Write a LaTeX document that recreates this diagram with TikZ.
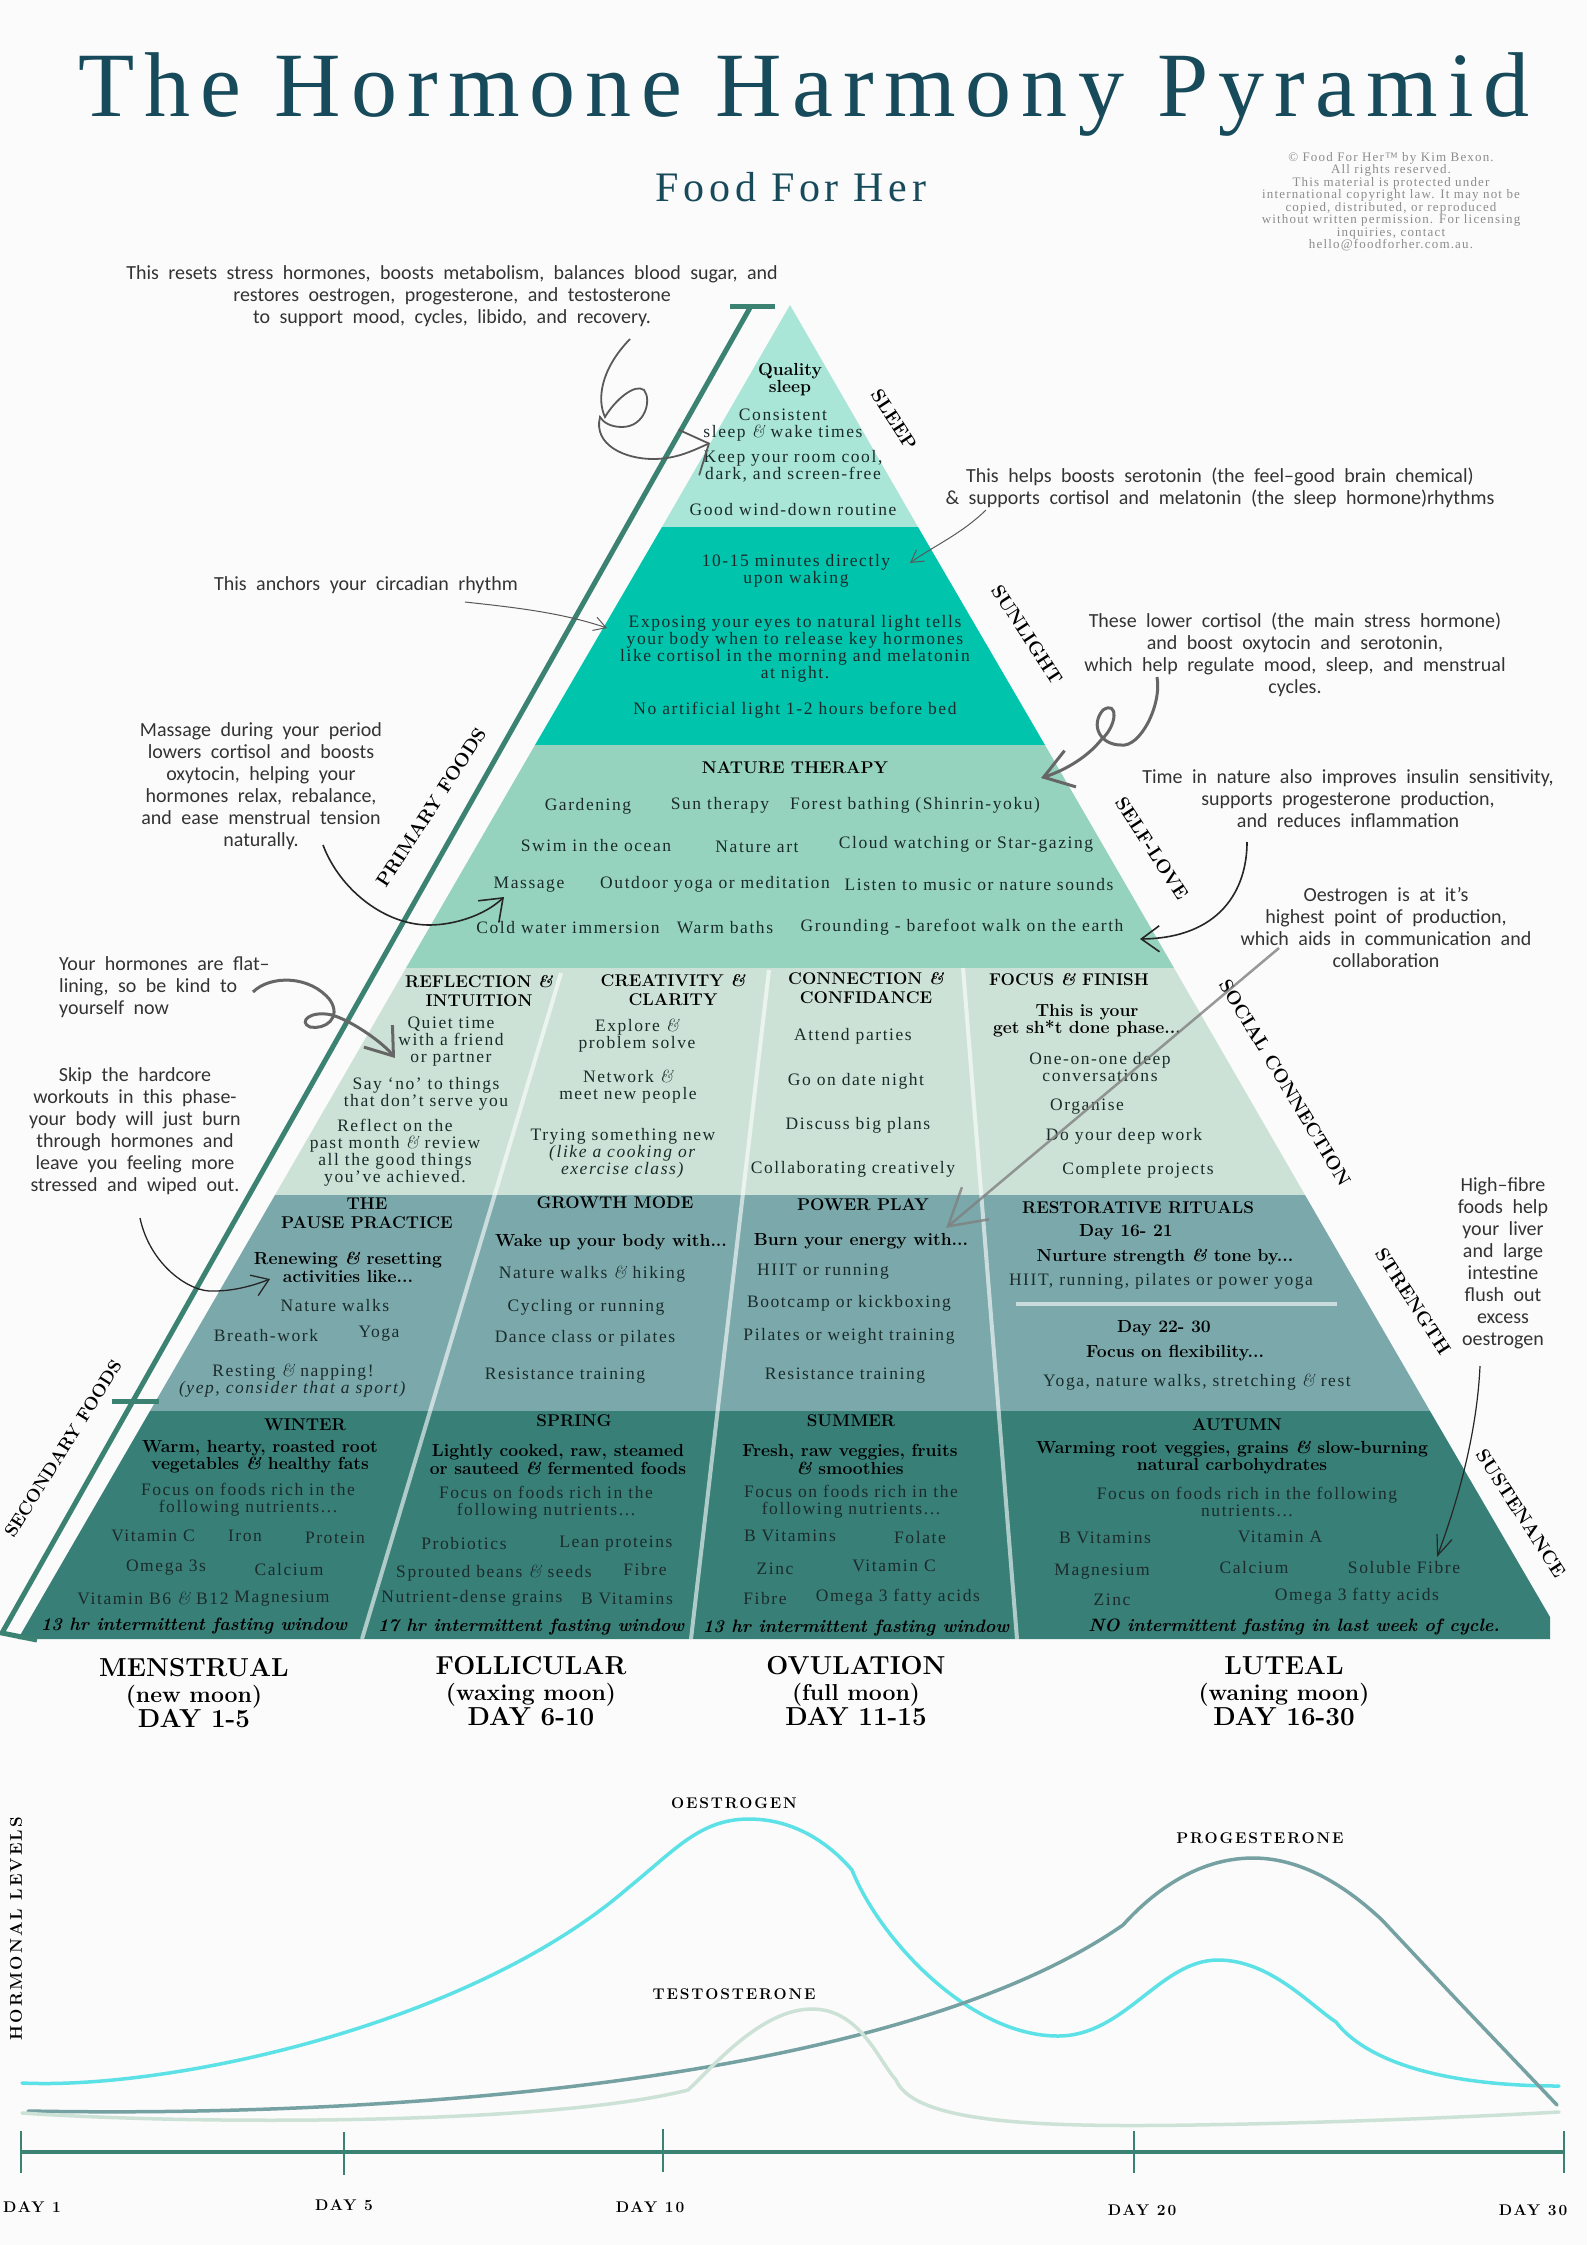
\documentclass[tikz,border=0pt]{standalone}
\usepackage{fontspec}
\usetikzlibrary{arrows.meta}
\newfontfamily\titlefont[LetterSpace=11]{Liberation Serif}
\newfontfamily\bodyfam[LetterSpace=9]{Liberation Serif}
\newfontfamily\spacedfam[LetterSpace=12]{Latin Modern Roman}
\newfontfamily\lmfont{Latin Modern Roman}
\newfontfamily\handfont[WordSpace=2.1]{Carlito}
\newcommand{\bodyfont}{\bodyfam\fontsize{17.5}{17}\selectfont}
\newcommand{\amp}{{\lmfont\itshape\&}}
\definecolor{pagecol}{HTML}{FBFBFB}
\definecolor{titlecol}{HTML}{174A5A}
\definecolor{sleepcol}{HTML}{A9E6D7}
\definecolor{suncol}{HTML}{00C4AC}
\definecolor{naturecol}{HTML}{96D3BE}
\definecolor{socialcol}{HTML}{CDE2D6}
\definecolor{strengthcol}{HTML}{7BA9AB}
\definecolor{foodcol}{HTML}{387F78}
\definecolor{linecol}{HTML}{3B8272}
\definecolor{textcol}{HTML}{1B2B2B}
\definecolor{cyancol}{HTML}{5CE1E6}
\begin{document}
\begin{tikzpicture}[x=1pt,y=-1pt,
  labelsty/.style={anchor=center,align=center,inner sep=0pt,yshift=-1.5pt,text=textcol,font=\bodyfont},
  boldsty/.style={labelsty,text=black,font=\fontsize{17.5}{17.5}\selectfont\bfseries},
  headsty/.style={labelsty,text=black,font=\fontsize{17}{19}\selectfont\bfseries},
  faststy/.style={labelsty,text=black,font=\fontsize{17.9}{17}\selectfont\bfseries\itshape},
  sidesty/.style={labelsty,text=black,font=\fontsize{19}{20}\selectfont\bfseries},
  phasesty/.style={labelsty,text=black,font=\fontsize{26}{25.5}\selectfont\bfseries},
  daysty/.style={labelsty,text=black,font=\spacedfam\fontsize{15.5}{16}\selectfont\bfseries},
  notesty/.style={labelsty,text=black!80,font=\handfont\fontsize{20}{22}\selectfont},
  thinhand/.style={draw=black!65,line width=1pt,-{Straight Barb[length=12pt,width=14pt]}},
  blackhand/.style={draw=black!85,line width=1.6pt},
  grayhand/.style={draw=black!60,line width=3pt},
  axissty/.style={draw=linecol,line width=2.5pt},
  curvesty/.style={line width=3.5pt,line cap=round},
  cuthline/.style={draw=white,opacity=0.6,line width=4pt}]

  \useasboundingbox (0,0) rectangle (1587,2245);
  \fill[pagecol] (0,0) rectangle (1587,2245);

  \draw node[labelsty,text=titlecol,font=\titlefont\fontsize{92}{94}\selectfont] (title) at (804,93) {The Hormone Harmony Pyramid};
  \draw node[labelsty,text=titlecol,font=\titlefont\fontsize{42}{44}\selectfont] (brand) at (791,186) {Food For Her};
  \draw node[labelsty,text=black!45,font=\bodyfam\fontsize{13}{12.5}\selectfont] (legal) at (1391,200) {© Food For Her™ by Kim Bexon.\\All rights reserved.\\This material is protected under\\international copyright law. It may not be\\copied, distributed, or reproduced\\without written permission. For licensing\\inquiries, contact\\hello@foodforher.com.au.};

  \fill[sleepcol] (790,305) -- (918,527) -- (662,527) -- cycle;
  \fill[suncol] (662,527) -- (918,527) -- (1045,745) -- (535,745) -- cycle;
  \fill[naturecol] (535,745) -- (1045,745) -- (1174,968) -- (406,968) -- cycle;
  \fill[socialcol] (406,968) -- (1174,968) -- (1305,1195) -- (275,1195) -- cycle;
  \fill[strengthcol] (275,1195) -- (1305,1195) -- (1430,1411) -- (150,1411) -- cycle;
  \fill[foodcol] (150,1411) -- (1430,1411) -- (1550,1617) -- (1550,1639) -- (18,1639) -- cycle;

  \draw[cuthline] (561,973) -- (362,1639);
  \draw[cuthline] (769,970) -- (691,1639);
  \draw[cuthline] (963,968) -- (1017,1639);
  \draw[cuthline] (1016,1304) -- (1337,1304);

  \draw[draw=linecol,line width=5pt] (730,306) -- (775,306);
  \draw[draw=linecol,line width=5pt] (751,306) -- (2,1633) -- (37,1640);
  \draw[draw=linecol,line width=5pt] (112,1401) -- (159,1401);

  \draw node[boldsty] (quality) at (790,378) {Quality\\sleep};
  \draw node[labelsty] (consistent) at (783,424) {Consistent\\sleep \amp{} wake times};
  \draw node[labelsty] (roomcool) at (793,465) {Keep your room cool,\\dark, and screen-free};
  \draw node[labelsty] (winddown) at (793,508) {Good wind-down routine};

  \draw node[labelsty] (waking) at (796,569) {10-15 minutes directly\\upon waking};
  \draw node[labelsty] (exposing) at (795,647) {Exposing your eyes to natural light tells\\your body when to release key hormones\\like cortisol in the morning and melatonin\\at night.};
  \draw node[labelsty] (noartificial) at (795,709) {No artificial light 1-2 hours before bed};

  \draw node[headsty] (nature) at (795,766) {NATURE THERAPY};
  \draw node[labelsty] (gardening) at (588,805) {Gardening};
  \draw node[labelsty] (suntherapy) at (720,804) {Sun therapy};
  \draw node[labelsty] (forest) at (915,804) {Forest bathing (Shinrin-yoku)};
  \draw node[labelsty] (swim) at (596,844) {Swim in the ocean};
  \draw node[labelsty] (natureart) at (757,845) {Nature art};
  \draw node[labelsty] (cloud) at (966,843) {Cloud watching or Star-gazing};
  \draw node[labelsty] (massage) at (529,883) {Massage};
  \draw node[labelsty] (outdoor) at (715,883) {Outdoor yoga or meditation};
  \draw node[labelsty] (listen) at (979,883) {Listen to music or nature sounds};
  \draw node[labelsty] (coldwater) at (568,926) {Cold water immersion};
  \draw node[labelsty] (warmbaths) at (725,926) {Warm baths};
  \draw node[labelsty] (grounding) at (962,926) {Grounding - barefoot walk on the earth};

  \draw node[headsty] (reflection) at (479,990) {REFLECTION \amp\\INTUITION};
  \draw node[labelsty] (quiet) at (451,1040) {Quiet time\\with a friend\\or partner};
  \draw node[labelsty] (sayno) at (426,1092) {Say ‘no’ to things\\that don’t serve you};
  \draw node[labelsty] (reflect) at (395,1151) {Reflect on the\\past month \amp{} review\\all the good things\\you’ve achieved.};
  \draw node[headsty] (creativity) at (673,989) {CREATIVITY \amp\\CLARITY};
  \draw node[labelsty] (explore) at (637,1034) {Explore \amp\\problem solve};
  \draw node[labelsty] (network) at (628,1085) {Network \amp\\meet new people};
  \draw node[labelsty] (trying) at (623,1152) {Trying something new\\\textit{(like a cooking or}\\\textit{exercise class)}};
  \draw node[headsty] (connection) at (866,987) {CONNECTION \amp\\CONFIDANCE};
  \draw node[labelsty] (attend) at (853,1035) {Attend parties};
  \draw node[labelsty] (datenight) at (856,1080) {Go on date night};
  \draw node[labelsty] (bigplans) at (858,1124) {Discuss big plans};
  \draw node[labelsty] (collab) at (853,1168) {Collaborating creatively};
  \draw node[headsty] (focus) at (1069,978) {FOCUS \amp{} FINISH};
  \draw node[boldsty] (phase) at (1087,1019) {This is your\\get sh*t done phase...};
  \draw node[labelsty] (oneonone) at (1100,1066) {One-on-one deep\\conversations};
  \draw node[labelsty] (organise) at (1087,1105) {Organise};
  \draw node[labelsty] (deepwork) at (1124,1135) {Do your deep work};
  \draw node[labelsty] (complete) at (1138,1169) {Complete projects};

  \draw node[headsty] (pause) at (367,1212) {THE\\PAUSE PRACTICE};
  \draw node[boldsty] (renewing) at (348,1266) {Renewing \amp{} resetting\\activities like...};
  \draw node[labelsty] (walksa) at (335,1304) {Nature walks};
  \draw node[labelsty] (breath) at (266,1334) {Breath-work};
  \draw node[labelsty] (yogaa) at (379,1332) {Yoga};
  \draw node[labelsty] (resting) at (293,1379) {Resting \amp{} napping!\\\textit{(yep, consider that a sport)}};
  \draw node[headsty] (growth) at (615,1201) {GROWTH MODE};
  \draw node[boldsty] (wakeup) at (611,1241) {Wake up your body with...};
  \draw node[labelsty] (walksb) at (592,1273) {Nature walks \amp{} hiking};
  \draw node[labelsty] (cycling) at (586,1306) {Cycling or running};
  \draw node[labelsty] (dance) at (585,1337) {Dance class or pilates};
  \draw node[labelsty] (resista) at (565,1374) {Resistance training};
  \draw node[headsty] (power) at (863,1203) {POWER PLAY};
  \draw node[boldsty] (burn) at (861,1240) {Burn your energy with...};
  \draw node[labelsty] (hiit) at (823,1270) {HIIT or running};
  \draw node[labelsty] (bootcamp) at (849,1302) {Bootcamp or kickboxing};
  \draw node[labelsty] (pilates) at (849,1335) {Pilates or weight training};
  \draw node[labelsty] (resistb) at (845,1374) {Resistance training};
  \draw node[headsty] (rituals) at (1138,1206) {RESTORATIVE RITUALS};
  \draw node[boldsty] (dayone) at (1126,1231) {Day 16- 21};
  \draw node[boldsty] (nurture) at (1165,1256) {Nurture strength \amp{} tone by...};
  \draw node[labelsty] (hiitrun) at (1161,1280) {HIIT, running, pilates or power yoga};
  \draw node[boldsty] (daytwo) at (1164,1327) {Day 22- 30};
  \draw node[boldsty] (flex) at (1175,1352) {Focus on flexibility...};
  \draw node[labelsty] (yogawalks) at (1197,1381) {Yoga, nature walks, stretching \amp{} rest};

  \draw node[headsty] (winter) at (305,1423) {WINTER};
  \draw node[boldsty] (warm) at (260,1455) {Warm, hearty, roasted root\\vegetables \amp{} healthy fats};
  \draw node[labelsty] (focusa) at (248,1498) {Focus on foods rich in the\\following nutrients...};
  \draw node[labelsty] (vitca) at (153,1534) {Vitamin C};
  \draw node[labelsty] (iron) at (245,1534) {Iron};
  \draw node[labelsty] (protein) at (335,1536) {Protein};
  \draw node[labelsty] (omegaa) at (166,1566) {Omega 3s};
  \draw node[labelsty] (calciuma) at (289,1568) {Calcium};
  \draw node[labelsty] (vitb) at (153,1597) {Vitamin B6 \amp{} B12};
  \draw node[labelsty] (magnesa) at (282,1597) {Magnesium};
  \draw node[faststy] (fasta) at (194,1625) {13 hr intermittent fasting window};
  \draw node[headsty] (spring) at (574,1419) {SPRING};
  \draw node[boldsty] (lightly) at (558,1458) {Lightly cooked, raw, steamed\\or sauteed \amp{} fermented foods};
  \draw node[labelsty] (focusb) at (546,1501) {Focus on foods rich in the\\following nutrients...};
  \draw node[labelsty] (probiotics) at (464,1542) {Probiotics};
  \draw node[labelsty] (lean) at (616,1542) {Lean proteins};
  \draw node[labelsty] (sprouted) at (494,1572) {Sprouted beans \amp{} seeds};
  \draw node[labelsty] (fibrea) at (645,1568) {Fibre};
  \draw node[labelsty] (nutrient) at (472,1597) {Nutrient-dense grains};
  \draw node[labelsty] (bvita) at (627,1597) {B Vitamins};
  \draw node[faststy] (fastb) at (531,1626) {17 hr intermittent fasting window};
  \draw node[headsty] (summer) at (851,1419) {SUMMER};
  \draw node[boldsty] (fresh) at (850,1458) {Fresh, raw veggies, fruits\\\amp{} smoothies};
  \draw node[labelsty] (focusc) at (851,1500) {Focus on foods rich in the\\following nutrients...};
  \draw node[labelsty] (bvitb) at (790,1534) {B Vitamins};
  \draw node[labelsty] (folate) at (920,1536) {Folate};
  \draw node[labelsty] (zinca) at (775,1567) {Zinc};
  \draw node[labelsty] (vitcb) at (894,1564) {Vitamin C};
  \draw node[labelsty] (fibreb) at (765,1597) {Fibre};
  \draw node[labelsty] (omegab) at (898,1596) {Omega 3 fatty acids};
  \draw node[faststy] (fastc) at (856,1627) {13 hr intermittent fasting window};
  \draw node[headsty] (autumn) at (1237,1423) {AUTUMN};
  \draw node[boldsty] (warming) at (1232,1456) {Warming root veggies, grains \amp{} slow-burning\\natural carbohydrates};
  \draw node[labelsty] (focusd) at (1247,1500) {Focus on foods rich in the following\\nutrients...};
  \draw node[labelsty] (bvitc) at (1105,1536) {B Vitamins};
  \draw node[labelsty] (vita) at (1280,1535) {Vitamin A};
  \draw node[labelsty] (magnesb) at (1102,1570) {Magnesium};
  \draw node[labelsty] (calciumb) at (1254,1566) {Calcium};
  \draw node[labelsty] (soluble) at (1404,1566) {Soluble Fibre};
  \draw node[labelsty] (zincb) at (1112,1598) {Zinc};
  \draw node[labelsty] (omegac) at (1357,1595) {Omega 3 fatty acids};
  \draw node[faststy] (fastd) at (1294,1625) {NO intermittent fasting in last week of cycle.};

  \draw node[sidesty,rotate=-57] (sleepside) at (894,418) {SLEEP};
  \draw node[sidesty,rotate=-57] (sunside) at (1027,633) {SUNLIGHT};
  \draw node[sidesty,rotate=-57] (selfside) at (1152,847) {SELF-LOVE};
  \draw node[sidesty,rotate=-59] (socialside) at (1285,1081) {SOCIAL CONNECTION};
  \draw node[sidesty,rotate=-57] (strengthside) at (1413,1300) {STRENGTH};
  \draw node[sidesty,rotate=-57] (sustside) at (1521,1512) {SUSTENANCE};
  \draw node[sidesty,rotate=57] (primary) at (431,806) {PRIMARY FOODS};
  \draw node[sidesty,font=\fontsize{18}{19}\selectfont\bfseries,rotate=58] (secondary) at (63,1447) {SECONDARY FOODS};

  \draw node[phasesty] (menstrual) at (194,1692) {MENSTRUAL\\{\fontsize{23}{25.5}\selectfont (new moon)}\\DAY 1-5};
  \draw node[phasesty] (follicular) at (531,1690) {FOLLICULAR\\{\fontsize{23}{25.5}\selectfont (waxing moon)}\\DAY 6-10};
  \draw node[phasesty] (ovulation) at (856,1690) {OVULATION\\{\fontsize{23}{25.5}\selectfont (full moon)}\\DAY 11-15};
  \draw node[phasesty] (luteal) at (1284,1690) {LUTEAL\\{\fontsize{23}{25.5}\selectfont (waning moon)}\\DAY 16-30};

  \draw node[notesty] (resetnote) at (452,295) {This resets stress hormones, boosts metabolism, balances blood sugar, and\\restores oestrogen, progesterone, and testosterone\\to support mood, cycles, libido, and recovery.};
  \draw node[notesty] (anchornote) at (366,584) {This anchors your circadian rhythm};
  \draw node[notesty] (boostnote) at (1220,486) {This helps boosts serotonin (the feel–good brain chemical)\\\& supports cortisol and melatonin (the sleep hormone)rhythms};
  \draw node[notesty] (lowernote) at (1295,653) {These lower cortisol (the main stress hormone)\\and boost oxytocin and serotonin,\\which help regulate mood, sleep, and menstrual\\cycles.};
  \draw node[notesty] (massagenote) at (261,785) {Massage during your period\\lowers cortisol and boosts\\oxytocin, helping your\\hormones relax, rebalance,\\and ease menstrual tension\\naturally.};
  \draw node[notesty] (timenote) at (1348,797) {Time in nature also improves insulin sensitivity,\\supports progesterone production,\\and reduces inflammation};
  \draw node[notesty,anchor=west,align=left] (flatnote) at (59,986) {Your hormones are flat–\\lining, so be kind to\\yourself now};
  \draw node[notesty] (oestnote) at (1386,926) {Oestrogen is at it’s\\highest point of production,\\which aids in communication and\\collaboration};
  \draw node[notesty] (skipnote) at (135,1130) {Skip the hardcore\\workouts in this phase-\\your body will just burn\\through hormones and\\leave you feeling more\\stressed and wiped out.};
  \draw node[notesty] (fibrenote) at (1503,1262) {High–fibre\\foods help\\your liver\\and large\\intestine\\flush out\\excess\\oestrogen};

  \coordinate (resetfrom) at (630,339);
  \coordinate (resetto) at (710,443);
  \coordinate (anchorfrom) at (465,602);
  \coordinate (anchorto) at (607,628);
  \coordinate (boostfrom) at (986,510);
  \coordinate (boostto) at (910,563);
  \coordinate (lowerfrom) at (1157,677);
  \coordinate (lowerto) at (1041,778);
  \coordinate (timefrom) at (1247,842);
  \coordinate (timeto) at (1140,939);
  \coordinate (massagefrom) at (323,845);
  \coordinate (massageto) at (504,897);
  \coordinate (flatfrom) at (253,992);
  \coordinate (flatto) at (395,1058);
  \coordinate (oestfrom) at (1279,948);
  \coordinate (oestto) at (946,1228);
  \coordinate (skipfrom) at (140,1218);
  \coordinate (skipto) at (270,1279);
  \coordinate (fibrefrom) at (1480,1366);
  \coordinate (fibreto) at (1437,1557);

  \draw[draw=black!65,line width=1.8pt,-{Straight Barb[length=22pt,width=50pt]}] (resetfrom) .. controls (600,370) and (597,400) .. (605,417) .. controls (615,400) and (635,383) .. (644,390) .. controls (652,400) and (645,427) .. (622,427) .. controls (610,427) and (603,422) .. (600,417) .. controls (593,445) and (625,459) .. (653,459) .. controls (675,459) and (690,452) .. (resetto);
  \draw[thinhand] (anchorfrom) .. controls (510,607) and (560,612) .. (anchorto);
  \draw[thinhand] (boostfrom) .. controls (960,535) and (935,545) .. (boostto);
  \draw[grayhand,-{Straight Barb[length=28pt,width=38pt]}] (lowerfrom) .. controls (1162,705) and (1140,748) .. (1121,745) .. controls (1100,745) and (1090,725) .. (1103,710) .. controls (1118,700) and (1118,725) .. (1101,740) .. controls (1085,760) and (1060,772) .. (lowerto);
  \draw[blackhand,-{Straight Barb[length=18pt,width=26pt]}] (timefrom) .. controls (1247,890) and (1220,938) .. (timeto);
  \draw[blackhand,-{Straight Barb[length=20pt,width=30pt]}] (massagefrom) .. controls (340,890) and (385,925) .. (429,925) .. controls (455,925) and (485,915) .. (massageto);
  \draw[grayhand,-{Straight Barb[length=25pt,width=36pt]}] (flatfrom) .. controls (270,975) and (310,975) .. (330,1000) .. controls (342,1018) and (325,1030) .. (310,1027) .. controls (298,1022) and (310,1010) .. (332,1015) .. controls (355,1022) and (385,1045) .. (flatto);
  \draw[draw=black!50,opacity=0.8,line width=2.5pt,-{Straight Barb[length=36pt,width=42pt]}] (oestfrom) -- (oestto);
  \draw[blackhand,line width=1.3pt,-{Straight Barb[length=16pt,width=22pt]}] (skipfrom) .. controls (150,1265) and (190,1293) .. (214,1291) .. controls (235,1291) and (255,1285) .. (skipto);
  \draw[blackhand,line width=1.2pt,-{Straight Barb[length=20pt,width=16pt]}] (fibrefrom) .. controls (1477,1430) and (1460,1495) .. (fibreto);

  \draw[curvesty,draw=cyancol] (22,2083) .. controls (170,2090) and (470,2025) .. (628,1888) .. controls (675,1850) and (700,1819) .. (749,1819) .. controls (800,1819) and (835,1850) .. (852,1870) .. controls (880,1940) and (970,2036) .. (1058,2036) .. controls (1125,2036) and (1160,1960) .. (1218,1960) .. controls (1270,1960) and (1310,2005) .. (1336,2022) .. controls (1365,2060) and (1440,2086) .. (1559,2086);
  \draw[curvesty,draw=strengthcol!95!black] (28,2111) .. controls (400,2118) and (900,2080) .. (1123,1925) .. controls (1150,1895) and (1195,1858) .. (1253,1858) .. controls (1305,1858) and (1350,1890) .. (1382,1920) -- (1457,2000) -- (1557,2105);
  \draw[curvesty,draw=socialcol] (22,2113) .. controls (200,2125) and (550,2125) .. (688,2090) .. controls (710,2070) and (760,2009) .. (812,2009) .. controls (860,2009) and (878,2060) .. (896,2080) .. controls (915,2125) and (1050,2127) .. (1194,2125) .. controls (1320,2123) and (1450,2118) .. (1559,2112);

  \draw node[daysty] (oestrogen) at (734,1802) {OESTROGEN};
  \draw node[daysty] (progesterone) at (1260,1837) {PROGESTERONE};
  \draw node[daysty] (testosterone) at (734,1993) {TESTOSTERONE};
  \draw node[daysty,font=\spacedfam\fontsize{17}{18}\selectfont\bfseries,rotate=90] (levels) at (16,1927) {HORMONAL LEVELS};

  \draw[axissty,line width=4.5pt] (21,2152) -- (1564,2152);
  \draw[axissty] (21,2131) -- (21,2173);
  \draw[axissty] (344,2132) -- (344,2175);
  \draw[axissty] (663,2129) -- (663,2172);
  \draw[axissty] (1134,2131) -- (1134,2173);
  \draw[axissty] (1564,2131) -- (1564,2173);
  \draw node[daysty] (dayfirst) at (32,2206) {DAY 1};
  \draw node[daysty] (dayfive) at (344,2204) {DAY 5};
  \draw node[daysty] (dayten) at (650,2206) {DAY 10};
  \draw node[daysty] (daytwenty) at (1142,2209) {DAY 20};
  \draw node[daysty] (daythirty) at (1533,2209) {DAY 30};

\end{tikzpicture}
\end{document}
